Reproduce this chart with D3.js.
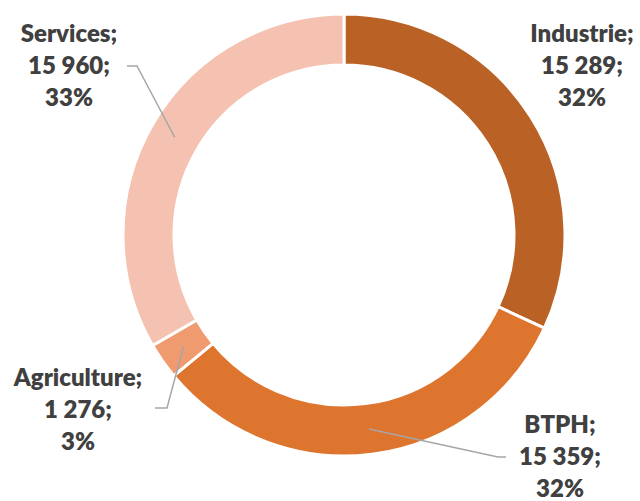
<!DOCTYPE html>
<html lang="fr">
<head>
<meta charset="utf-8">
<script src="https://d3js.org/d3.v7.min.js"></script>
<style type="text/css">
  body { margin: 0; background: #fff; }
  .lbl { font-family: Lato, "Open Sans", sans-serif; font-weight: 800; font-size: 24px; fill: #404040; }
</style>
</head>
<body>
<script type="text/javascript">

  // data
  var categories = ["Industrie", "BTPH", "Agriculture", "Services"];
  var values = [15289, 15359, 1276, 15960];
  var valueLabels = ["15 289", "15 359", "1 276", "15 960"];
  var percentLabels = ["32%", "32%", "3%", "33%"];
  var colors = ["#BA6125", "#DE752F", "#F09A6F", "#F5C2B1"];

  var width = 640;
  var height = 501;
  var cx = 344, cy = 235;
  var outerR = 221, innerR = 170;

  // label anchor (centre x, first baseline) and leader start point, per slice
  var labelPos = [
    {x: 582, y: 42, leader: null},
    {x: 560, y: 433, leader: [[506, 457], [498, 457]]},
    {x: 78, y: 386, leader: [[155, 408], [167, 408]]},
    {x: 69, y: 42, leader: [[127, 66], [137, 66]]}
  ];

  var svg = d3.select("body")
    .append("svg")
    .attr("width", width)
    .attr("height", height);

  var pie = d3.pie().sort(null).value(function(d) { return d; });
  var arcs = pie(values);

  var arc = d3.arc().innerRadius(innerR).outerRadius(outerR);

  var g = svg.append("g").attr("transform", "translate(" + cx + "," + cy + ")");

  g.selectAll("path.slice")
    .data(arcs)
    .enter()
    .append("path")
    .attr("class", "slice")
    .attr("d", arc)
    .style("fill", function(d, i) { return colors[i]; })
    .style("stroke", "#fff")
    .style("stroke-width", 3);

  // leader lines: from label to middle of the ring
  var line = d3.line();
  arcs.forEach(function(d, i) {
    var lp = labelPos[i];
    if (!lp.leader) return;
    var c = arc.centroid(d);
    var pts = lp.leader.concat([[c[0] + cx, c[1] + cy]]);
    svg.append("path")
      .attr("d", line(pts))
      .style("fill", "none")
      .style("stroke", "#A6A6A6")
      .style("stroke-width", 1.5);
  });

  // labels
  arcs.forEach(function(d, i) {
    var lp = labelPos[i];
    var t = svg.append("text")
      .attr("class", "lbl")
      .attr("text-anchor", "middle")
      .attr("x", lp.x)
      .attr("y", lp.y);
    var lines = [categories[i] + ";", valueLabels[i] + ";", percentLabels[i]];
    lines.forEach(function(s, k) {
      t.append("tspan").attr("x", lp.x).attr("y", lp.y + k * 32).text(s);
    });
  });
</script>
</body>
</html>
